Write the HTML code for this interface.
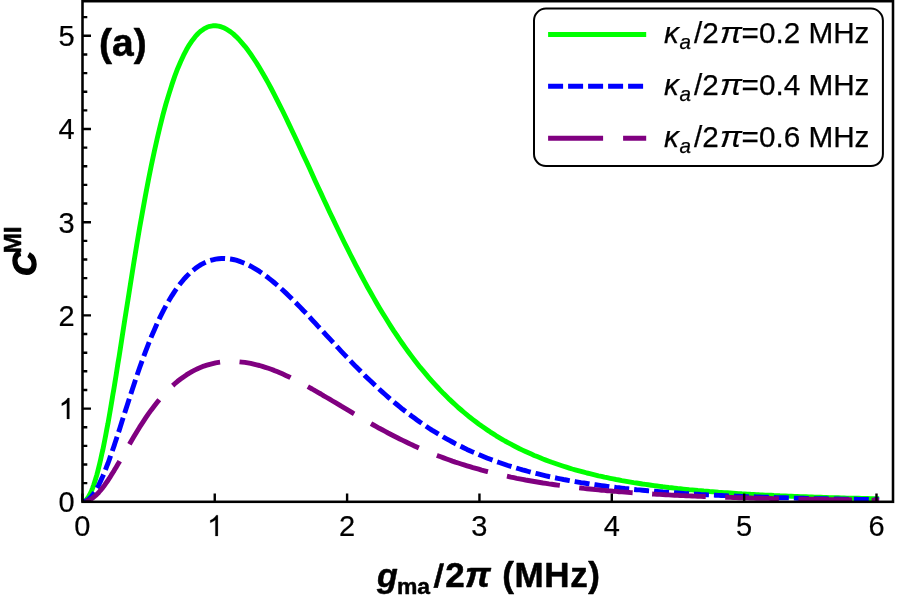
<!DOCTYPE html>
<html><head><meta charset="utf-8"><title>Chart</title>
<style>
html,body{margin:0;padding:0;background:#fff;}
svg{display:block;font-family:"Liberation Sans",sans-serif;will-change:transform;}
text{fill:#000;}
</style></head><body>
<svg width="897" height="598" viewBox="0 0 897 598">
<rect width="897" height="598" fill="#fff"/>
<clipPath id="pc"><rect x="82.5" y="1.2" width="810.5" height="500.6"/></clipPath><g clip-path="url(#pc)">
<path d="M82.4,501.8 L83.4,501.7 L84.4,501.2 L85.5,500.5 L86.5,499.6 L87.5,498.3 L88.5,496.8 L89.5,495.0 L90.5,493.0 L91.6,490.7 L92.6,488.1 L93.6,485.3 L94.6,482.2 L95.6,479.0 L96.7,475.4 L97.7,471.7 L98.7,467.7 L99.7,463.6 L100.7,459.2 L101.7,454.6 L102.8,449.9 L103.8,445.0 L104.8,439.9 L105.8,434.7 L106.8,429.3 L107.9,423.8 L108.9,418.1 L109.9,412.4 L110.9,406.5 L111.9,400.5 L112.9,394.4 L114.0,388.3 L115.0,382.0 L116.0,375.8 L117.0,369.4 L118.0,363.0 L119.1,356.6 L120.1,350.1 L121.1,343.6 L122.1,337.1 L125.0,318.3 L128.0,299.6 L130.9,281.1 L133.8,262.9 L136.7,245.2 L139.6,227.9 L142.6,211.3 L145.5,195.3 L148.4,180.0 L151.3,165.4 L154.3,151.6 L157.2,138.5 L160.1,126.2 L163.0,114.7 L165.9,104.0 L168.9,94.1 L171.8,84.9 L174.7,76.4 L177.6,68.7 L180.6,61.7 L183.5,55.4 L186.4,49.8 L189.3,44.8 L192.3,40.4 L195.2,36.7 L198.1,33.5 L201.0,30.9 L203.9,28.9 L206.9,27.3 L209.8,26.3 L212.7,25.8 L215.6,25.7 L218.6,26.1 L221.5,26.9 L224.4,28.1 L227.3,29.7 L230.3,31.6 L233.2,33.9 L236.1,36.6 L239.0,39.5 L241.9,42.8 L244.9,46.3 L247.8,50.1 L250.7,54.2 L253.6,58.5 L256.6,63.0 L259.5,67.8 L262.4,72.7 L265.3,77.8 L268.3,83.1 L271.2,88.5 L274.1,94.1 L277.0,99.8 L279.9,105.6 L282.9,111.5 L285.8,117.5 L288.7,123.6 L291.6,129.8 L294.6,136.0 L297.5,142.3 L300.4,148.6 L303.3,154.9 L306.3,161.3 L309.2,167.6 L312.1,174.0 L315.0,180.4 L317.9,186.7 L320.9,193.1 L323.8,199.4 L326.7,205.6 L329.6,211.9 L332.6,218.1 L335.5,224.2 L338.4,230.3 L341.3,236.3 L344.2,242.3 L347.2,248.2 L350.1,254.0 L353.0,259.7 L355.9,265.4 L358.9,271.0 L361.8,276.5 L364.7,281.9 L367.6,287.2 L370.6,292.5 L373.5,297.6 L376.4,302.7 L379.3,307.7 L382.2,312.5 L385.2,317.3 L388.1,322.0 L391.0,326.6 L393.9,331.1 L396.9,335.5 L399.8,339.8 L402.7,344.0 L405.6,348.1 L408.6,352.2 L411.5,356.1 L414.4,359.9 L417.3,363.7 L420.2,367.4 L423.2,370.9 L426.1,374.4 L429.0,377.8 L431.9,381.1 L434.9,384.4 L437.8,387.5 L440.7,390.6 L443.6,393.6 L446.6,396.5 L449.5,399.4 L452.4,402.1 L455.3,404.8 L458.2,407.5 L461.2,410.0 L464.1,412.5 L467.0,414.9 L469.9,417.3 L472.9,419.6 L475.8,421.8 L478.7,424.0 L481.6,426.1 L484.5,428.1 L487.5,430.1 L490.4,432.1 L493.3,433.9 L496.2,435.8 L499.2,437.6 L502.1,439.3 L505.0,441.0 L507.9,442.6 L510.9,444.2 L513.8,445.7 L516.7,447.2 L519.6,448.7 L522.5,450.1 L525.5,451.5 L528.4,452.8 L531.3,454.1 L534.2,455.4 L537.2,456.6 L540.1,457.8 L543.0,459.0 L545.9,460.1 L548.9,461.2 L551.8,462.3 L554.7,463.3 L557.6,464.3 L560.5,465.3 L563.5,466.3 L566.4,467.2 L569.3,468.1 L572.2,469.0 L575.2,469.8 L578.1,470.6 L581.0,471.4 L583.9,472.2 L586.9,473.0 L589.8,473.7 L592.7,474.4 L595.6,475.1 L598.5,475.8 L601.5,476.4 L604.4,477.1 L607.3,477.7 L610.2,478.3 L613.2,478.9 L616.1,479.5 L619.0,480.0 L621.9,480.6 L624.9,481.1 L627.8,481.6 L630.7,482.1 L633.6,482.6 L636.5,483.0 L639.5,483.5 L642.4,484.0 L645.3,484.4 L648.2,484.8 L651.2,485.2 L654.1,485.6 L657.0,486.0 L659.9,486.4 L662.8,486.8 L665.8,487.1 L668.7,487.5 L671.6,487.8 L674.5,488.1 L677.5,488.5 L680.4,488.8 L683.3,489.1 L686.2,489.4 L689.2,489.7 L692.1,489.9 L695.0,490.2 L697.9,490.5 L700.8,490.7 L703.8,491.0 L706.7,491.2 L709.6,491.5 L712.5,491.7 L715.5,491.9 L718.4,492.2 L721.3,492.4 L724.2,492.6 L727.2,492.8 L730.1,493.0 L733.0,493.2 L735.9,493.4 L738.8,493.6 L741.8,493.8 L744.7,493.9 L747.6,494.1 L750.5,494.3 L753.5,494.4 L756.4,494.6 L759.3,494.8 L762.2,494.9 L765.2,495.1 L768.1,495.2 L771.0,495.3 L773.9,495.5 L776.8,495.6 L779.8,495.8 L782.7,495.9 L785.6,496.0 L788.5,496.1 L791.5,496.2 L794.4,496.4 L797.3,496.5 L800.2,496.6 L803.2,496.7 L806.1,496.8 L809.0,496.9 L811.9,497.0 L814.8,497.1 L817.8,497.2 L820.7,497.3 L823.6,497.4 L826.5,497.5 L829.5,497.6 L832.4,497.7 L835.3,497.7 L838.2,497.8 L841.1,497.9 L844.1,498.0 L847.0,498.1 L849.9,498.1 L852.8,498.2 L855.8,498.3 L858.7,498.3 L861.6,498.4 L864.5,498.5 L867.5,498.5 L870.4,498.6 L873.3,498.7 L876.2,498.7 L879.1,498.8" fill="none" stroke="#00ff00" stroke-width="4.9" stroke-linejoin="round"/>
<path d="M82.4,501.8 L83.4,501.7 L84.4,501.5 L85.5,501.2 L86.5,500.7 L87.5,500.1 L88.5,499.3 L89.5,498.5 L90.5,497.5 L91.6,496.3 L92.6,495.1 L93.6,493.7 L94.6,492.2 L95.6,490.6 L96.7,488.8 L97.7,487.0 L98.7,485.1 L99.7,483.0 L100.7,480.9 L101.7,478.6 L102.8,476.3 L103.8,473.9 L104.8,471.4 L105.8,468.8 L106.8,466.2 L107.9,463.5 L108.9,460.7 L109.9,457.9 L110.9,455.0 L111.9,452.1 L112.9,449.2 L114.0,446.1 L115.0,443.1 L116.0,440.0 L117.0,436.9 L118.0,433.8 L119.1,430.6 L120.1,427.5 L121.1,424.3 L122.1,421.1 L125.0,412.0 L128.0,402.8 L130.9,393.8 L133.8,384.9 L136.7,376.2 L139.6,367.7 L142.6,359.5 L145.5,351.6 L148.4,344.1 L151.3,336.8 L154.3,329.9 L157.2,323.3 L160.1,317.1 L163.0,311.3 L165.9,305.8 L168.9,300.6 L171.8,295.8 L174.7,291.3 L177.6,287.1 L180.6,283.3 L183.5,279.7 L186.4,276.5 L189.3,273.6 L192.3,270.9 L195.2,268.6 L198.1,266.5 L201.0,264.6 L203.9,263.1 L206.9,261.7 L209.8,260.6 L212.7,259.8 L215.6,259.1 L218.6,258.7 L221.5,258.5 L224.4,258.4 L227.3,258.6 L230.3,259.0 L233.2,259.5 L236.1,260.2 L239.0,261.1 L241.9,262.2 L244.9,263.4 L247.8,264.7 L250.7,266.2 L253.6,267.8 L256.6,269.6 L259.5,271.4 L262.4,273.4 L265.3,275.6 L268.3,277.8 L271.2,280.1 L274.1,282.5 L277.0,285.0 L279.9,287.6 L282.9,290.2 L285.8,292.9 L288.7,295.7 L291.6,298.6 L294.6,301.5 L297.5,304.4 L300.4,307.4 L303.3,310.5 L306.3,313.5 L309.2,316.6 L312.1,319.8 L315.0,322.9 L317.9,326.1 L320.9,329.2 L323.8,332.4 L326.7,335.6 L329.6,338.7 L332.6,341.9 L335.5,345.0 L338.4,348.2 L341.3,351.3 L344.2,354.4 L347.2,357.5 L350.1,360.5 L353.0,363.6 L355.9,366.6 L358.9,369.5 L361.8,372.5 L364.7,375.4 L367.6,378.2 L370.6,381.0 L373.5,383.8 L376.4,386.6 L379.3,389.3 L382.2,391.9 L385.2,394.5 L388.1,397.1 L391.0,399.6 L393.9,402.1 L396.9,404.5 L399.8,406.9 L402.7,409.3 L405.6,411.5 L408.6,413.8 L411.5,416.0 L414.4,418.1 L417.3,420.2 L420.2,422.3 L423.2,424.3 L426.1,426.3 L429.0,428.2 L431.9,430.1 L434.9,431.9 L437.8,433.7 L440.7,435.5 L443.6,437.2 L446.6,438.8 L449.5,440.4 L452.4,442.0 L455.3,443.6 L458.2,445.1 L461.2,446.5 L464.1,448.0 L467.0,449.4 L469.9,450.7 L472.9,452.1 L475.8,453.3 L478.7,454.6 L481.6,455.8 L484.5,457.0 L487.5,458.2 L490.4,459.3 L493.3,460.4 L496.2,461.5 L499.2,462.5 L502.1,463.5 L505.0,464.5 L507.9,465.5 L510.9,466.4 L513.8,467.3 L516.7,468.2 L519.6,469.0 L522.5,469.9 L525.5,470.7 L528.4,471.5 L531.3,472.3 L534.2,473.0 L537.2,473.7 L540.1,474.4 L543.0,475.1 L545.9,475.8 L548.9,476.5 L551.8,477.1 L554.7,477.7 L557.6,478.3 L560.5,478.9 L563.5,479.5 L566.4,480.0 L569.3,480.6 L572.2,481.1 L575.2,481.6 L578.1,482.1 L581.0,482.6 L583.9,483.0 L586.9,483.5 L589.8,484.0 L592.7,484.4 L595.6,484.8 L598.5,485.2 L601.5,485.6 L604.4,486.0 L607.3,486.4 L610.2,486.8 L613.2,487.1 L616.1,487.5 L619.0,487.8 L621.9,488.1 L624.9,488.5 L627.8,488.8 L630.7,489.1 L633.6,489.4 L636.5,489.7 L639.5,489.9 L642.4,490.2 L645.3,490.5 L648.2,490.8 L651.2,491.0 L654.1,491.3 L657.0,491.5 L659.9,491.7 L662.8,492.0 L665.8,492.2 L668.7,492.4 L671.6,492.6 L674.5,492.8 L677.5,493.0 L680.4,493.2 L683.3,493.4 L686.2,493.6 L689.2,493.8 L692.1,494.0 L695.0,494.1 L697.9,494.3 L700.8,494.5 L703.8,494.6 L706.7,494.8 L709.6,494.9 L712.5,495.1 L715.5,495.2 L718.4,495.4 L721.3,495.5 L724.2,495.6 L727.2,495.8 L730.1,495.9 L733.0,496.0 L735.9,496.2 L738.8,496.3 L741.8,496.4 L744.7,496.5 L747.6,496.6 L750.5,496.7 L753.5,496.8 L756.4,496.9 L759.3,497.0 L762.2,497.1 L765.2,497.2 L768.1,497.3 L771.0,497.4 L773.9,497.5 L776.8,497.6 L779.8,497.7 L782.7,497.8 L785.6,497.8 L788.5,497.9 L791.5,498.0 L794.4,498.1 L797.3,498.2 L800.2,498.2 L803.2,498.3 L806.1,498.4 L809.0,498.4 L811.9,498.5 L814.8,498.6 L817.8,498.6 L820.7,498.7 L823.6,498.8 L826.5,498.8 L829.5,498.9 L832.4,498.9 L835.3,499.0 L838.2,499.0 L841.1,499.1 L844.1,499.1 L847.0,499.2 L849.9,499.2 L852.8,499.3 L855.8,499.3 L858.7,499.4 L861.6,499.4 L864.5,499.5 L867.5,499.5 L870.4,499.6 L873.3,499.6 L876.2,499.6 L879.1,499.7" fill="none" stroke="#0000ff" stroke-width="4.9" stroke-dasharray="15 5" stroke-dashoffset="-1" stroke-linejoin="round"/>
<path d="M82.4,501.8 L83.4,501.8 L84.4,501.6 L85.5,501.5 L86.5,501.2 L87.5,500.8 L88.5,500.4 L89.5,499.9 L90.5,499.4 L91.6,498.7 L92.6,498.0 L93.6,497.3 L94.6,496.4 L95.6,495.5 L96.7,494.6 L97.7,493.6 L98.7,492.5 L99.7,491.3 L100.7,490.1 L101.7,488.9 L102.8,487.6 L103.8,486.3 L104.8,484.9 L105.8,483.4 L106.8,482.0 L107.9,480.5 L108.9,478.9 L109.9,477.4 L110.9,475.8 L111.9,474.1 L112.9,472.5 L114.0,470.8 L115.0,469.1 L116.0,467.4 L117.0,465.7 L118.0,464.0 L119.1,462.2 L120.1,460.4 L121.1,458.7 L122.1,456.9 L125.0,451.8 L128.0,446.7 L130.9,441.7 L133.8,436.8 L136.7,431.9 L139.6,427.2 L142.6,422.6 L145.5,418.2 L148.4,413.9 L151.3,409.9 L154.3,406.0 L157.2,402.3 L160.1,398.7 L163.0,395.4 L165.9,392.2 L168.9,389.2 L171.8,386.4 L174.7,383.8 L177.6,381.3 L180.6,379.0 L183.5,376.9 L186.4,374.9 L189.3,373.1 L192.3,371.4 L195.2,369.9 L198.1,368.5 L201.0,367.3 L203.9,366.1 L206.9,365.2 L209.8,364.3 L212.7,363.6 L215.6,362.9 L218.6,362.4 L221.5,362.0 L224.4,361.7 L227.3,361.5 L230.3,361.4 L233.2,361.5 L236.1,361.6 L239.0,361.8 L241.9,362.1 L244.9,362.4 L247.8,362.9 L250.7,363.4 L253.6,364.1 L256.6,364.8 L259.5,365.5 L262.4,366.4 L265.3,367.3 L268.3,368.3 L271.2,369.3 L274.1,370.4 L277.0,371.6 L279.9,372.8 L282.9,374.1 L285.8,375.4 L288.7,376.7 L291.6,378.2 L294.6,379.6 L297.5,381.1 L300.4,382.6 L303.3,384.2 L306.3,385.8 L309.2,387.4 L312.1,389.0 L315.0,390.7 L317.9,392.3 L320.9,394.0 L323.8,395.8 L326.7,397.5 L329.6,399.2 L332.6,401.0 L335.5,402.7 L338.4,404.4 L341.3,406.2 L344.2,407.9 L347.2,409.7 L350.1,411.4 L353.0,413.2 L355.9,414.9 L358.9,416.6 L361.8,418.3 L364.7,420.0 L367.6,421.7 L370.6,423.4 L373.5,425.0 L376.4,426.6 L379.3,428.3 L382.2,429.8 L385.2,431.4 L388.1,433.0 L391.0,434.5 L393.9,436.0 L396.9,437.5 L399.8,439.0 L402.7,440.4 L405.6,441.8 L408.6,443.2 L411.5,444.6 L414.4,445.9 L417.3,447.2 L420.2,448.5 L423.2,449.8 L426.1,451.0 L429.0,452.2 L431.9,453.4 L434.9,454.6 L437.8,455.7 L440.7,456.8 L443.6,457.9 L446.6,459.0 L449.5,460.0 L452.4,461.1 L455.3,462.1 L458.2,463.0 L461.2,464.0 L464.1,464.9 L467.0,465.8 L469.9,466.7 L472.9,467.6 L475.8,468.4 L478.7,469.2 L481.6,470.1 L484.5,470.8 L487.5,471.6 L490.4,472.3 L493.3,473.1 L496.2,473.8 L499.2,474.5 L502.1,475.1 L505.0,475.8 L507.9,476.4 L510.9,477.1 L513.8,477.7 L516.7,478.3 L519.6,478.8 L522.5,479.4 L525.5,480.0 L528.4,480.5 L531.3,481.0 L534.2,481.5 L537.2,482.0 L540.1,482.5 L543.0,483.0 L545.9,483.4 L548.9,483.9 L551.8,484.3 L554.7,484.7 L557.6,485.1 L560.5,485.5 L563.5,485.9 L566.4,486.3 L569.3,486.7 L572.2,487.0 L575.2,487.4 L578.1,487.7 L581.0,488.0 L583.9,488.4 L586.9,488.7 L589.8,489.0 L592.7,489.3 L595.6,489.6 L598.5,489.9 L601.5,490.2 L604.4,490.4 L607.3,490.7 L610.2,490.9 L613.2,491.2 L616.1,491.4 L619.0,491.7 L621.9,491.9 L624.9,492.1 L627.8,492.3 L630.7,492.6 L633.6,492.8 L636.5,493.0 L639.5,493.2 L642.4,493.4 L645.3,493.6 L648.2,493.7 L651.2,493.9 L654.1,494.1 L657.0,494.3 L659.9,494.4 L662.8,494.6 L665.8,494.8 L668.7,494.9 L671.6,495.1 L674.5,495.2 L677.5,495.3 L680.4,495.5 L683.3,495.6 L686.2,495.8 L689.2,495.9 L692.1,496.0 L695.0,496.1 L697.9,496.3 L700.8,496.4 L703.8,496.5 L706.7,496.6 L709.6,496.7 L712.5,496.8 L715.5,496.9 L718.4,497.0 L721.3,497.1 L724.2,497.2 L727.2,497.3 L730.1,497.4 L733.0,497.5 L735.9,497.6 L738.8,497.7 L741.8,497.8 L744.7,497.8 L747.6,497.9 L750.5,498.0 L753.5,498.1 L756.4,498.2 L759.3,498.2 L762.2,498.3 L765.2,498.4 L768.1,498.4 L771.0,498.5 L773.9,498.6 L776.8,498.6 L779.8,498.7 L782.7,498.8 L785.6,498.8 L788.5,498.9 L791.5,498.9 L794.4,499.0 L797.3,499.0 L800.2,499.1 L803.2,499.1 L806.1,499.2 L809.0,499.2 L811.9,499.3 L814.8,499.3 L817.8,499.4 L820.7,499.4 L823.6,499.5 L826.5,499.5 L829.5,499.6 L832.4,499.6 L835.3,499.6 L838.2,499.7 L841.1,499.7 L844.1,499.8 L847.0,499.8 L849.9,499.8 L852.8,499.9 L855.8,499.9 L858.7,499.9 L861.6,500.0 L864.5,500.0 L867.5,500.0 L870.4,500.1 L873.3,500.1 L876.2,500.1 L879.1,500.2" fill="none" stroke="#800080" stroke-width="4.9" stroke-dasharray="53.7 19.5" stroke-dashoffset="-3.4" stroke-linejoin="round"/>
</g>
<rect x="82.5" y="1.2" width="810.5" height="500.6" fill="none" stroke="#000" stroke-width="2.55"/>
<path d="M82.5,501.80h8.5 M82.5,483.16h4.8 M82.5,464.52h4.8 M82.5,445.88h4.8 M82.5,427.24h4.8 M82.5,408.60h8.5 M82.5,389.96h4.8 M82.5,371.32h4.8 M82.5,352.68h4.8 M82.5,334.04h4.8 M82.5,315.40h8.5 M82.5,296.76h4.8 M82.5,278.12h4.8 M82.5,259.48h4.8 M82.5,240.84h4.8 M82.5,222.20h8.5 M82.5,203.56h4.8 M82.5,184.92h4.8 M82.5,166.28h4.8 M82.5,147.64h4.8 M82.5,129.00h8.5 M82.5,110.36h4.8 M82.5,91.72h4.8 M82.5,73.08h4.8 M82.5,54.44h4.8 M82.5,35.80h8.5 M82.5,17.16h4.8 M82.40,501.8v-8.2 M214.75,501.8v-8.2 M347.10,501.8v-8.2 M479.45,501.8v-8.2 M611.80,501.8v-8.2 M744.15,501.8v-8.2 M876.50,501.8v-8.2" stroke="#000" stroke-width="2.4" fill="none"/>
<text transform="translate(74.7,512.2) scale(1,1.03)" font-size="29" text-anchor="end" stroke="#000" stroke-width="0.2">0</text>
<path d="M69.40,418.90 L66.86,418.90 L66.86,402.66 Q65.93,403.54 64.44,404.41 Q62.95,405.29 61.76,405.73 L61.76,403.27 Q63.90,402.26 65.50,400.83 Q67.10,399.40 67.76,398.06 L69.40,398.06 Z" fill="#000" stroke="#000" stroke-width="0.2"/>
<text transform="translate(74.7,325.8) scale(1,1.03)" font-size="29" text-anchor="end" stroke="#000" stroke-width="0.2">2</text>
<text transform="translate(74.7,232.6) scale(1,1.03)" font-size="29" text-anchor="end" stroke="#000" stroke-width="0.2">3</text>
<text transform="translate(74.7,139.4) scale(1,1.03)" font-size="29" text-anchor="end" stroke="#000" stroke-width="0.2">4</text>
<text transform="translate(74.7,46.2) scale(1,1.03)" font-size="29" text-anchor="end" stroke="#000" stroke-width="0.2">5</text>
<text transform="translate(82.4,536.1) scale(1,1.03)" font-size="29" text-anchor="middle" stroke="#000" stroke-width="0.2">0</text>
<path d="M217.90,536.00 L215.36,536.00 L215.36,519.76 Q214.43,520.64 212.94,521.51 Q211.45,522.39 210.26,522.83 L210.26,520.37 Q212.40,519.36 214.00,517.93 Q215.60,516.50 216.26,515.16 L217.90,515.16 Z" fill="#000" stroke="#000" stroke-width="0.2"/>
<text transform="translate(347.1,536.1) scale(1,1.03)" font-size="29" text-anchor="middle" stroke="#000" stroke-width="0.2">2</text>
<text transform="translate(479.4,536.1) scale(1,1.03)" font-size="29" text-anchor="middle" stroke="#000" stroke-width="0.2">3</text>
<text transform="translate(611.8,536.1) scale(1,1.03)" font-size="29" text-anchor="middle" stroke="#000" stroke-width="0.2">4</text>
<text transform="translate(744.1,536.1) scale(1,1.03)" font-size="29" text-anchor="middle" stroke="#000" stroke-width="0.2">5</text>
<text transform="translate(876.5,536.1) scale(1,1.03)" font-size="29" text-anchor="middle" stroke="#000" stroke-width="0.2">6</text>
<g font-weight="bold" font-size="35" stroke="#000" stroke-width="0.5" stroke-linejoin="round"><text x="377.0" y="587.3" font-style="italic" font-size="34">g</text><text x="397.0" y="594.0" font-size="22.9">ma</text><text transform="translate(433.6,586.8) skewX(-4)" font-size="32.5">/</text><text x="445.2" y="586.8">2</text><text transform="translate(465.0,586.8) scale(1.05,1)" font-style="italic" font-size="34.5">π</text><text x="502.3" y="586.8" letter-spacing="0.6">(MHz)</text></g>
<g transform="translate(36.0,276.1) rotate(-90)" font-weight="bold"><text x="0" y="0" font-size="34" font-style="italic" stroke="#000" stroke-width="1.5" stroke-linejoin="round">C</text><text x="22.5" y="-14.8" font-size="24.5" stroke="#000" stroke-width="0.5" stroke-linejoin="round">MI</text></g>
<text x="99" y="56" font-size="39" font-weight="bold" stroke="#000" stroke-width="0.5" stroke-linejoin="round">(a)</text>
<rect x="534" y="8.6" width="348.9" height="157.4" rx="12" ry="12" fill="#fff" stroke="#000" stroke-width="2"/>
<path d="M548.1,34.4H646.2" stroke="#00ff00" stroke-width="5" fill="none"/>
<g font-size="29.7" stroke="#000" stroke-width="0.25"><text x="664.0" y="43.3" font-style="italic">κ</text><text x="679.6" y="49.2" font-size="20.6" font-style="italic">a</text><text x="694" y="43.3">/2</text><text transform="translate(720.0,43.3) scale(1.10,1)" font-style="italic">π</text><text x="741.6" y="43.3">=0.2 MHz</text></g>
<path d="M548.1,86.3H646.2" stroke="#0000ff" stroke-width="5" stroke-dasharray="15 5" fill="none"/>
<g font-size="29.7" stroke="#000" stroke-width="0.25"><text x="664.0" y="95.2" font-style="italic">κ</text><text x="679.6" y="101.1" font-size="20.6" font-style="italic">a</text><text x="694" y="95.2">/2</text><text transform="translate(720.0,95.2) scale(1.10,1)" font-style="italic">π</text><text x="741.6" y="95.2">=0.4 MHz</text></g>
<path d="M548.1,138.3H646.2" stroke="#800080" stroke-width="5" stroke-dasharray="55 20" fill="none"/>
<g font-size="29.7" stroke="#000" stroke-width="0.25"><text x="664.0" y="147.2" font-style="italic">κ</text><text x="679.6" y="153.1" font-size="20.6" font-style="italic">a</text><text x="694" y="147.2">/2</text><text transform="translate(720.0,147.2) scale(1.10,1)" font-style="italic">π</text><text x="741.6" y="147.2">=0.6 MHz</text></g>
</svg>
</body></html>
